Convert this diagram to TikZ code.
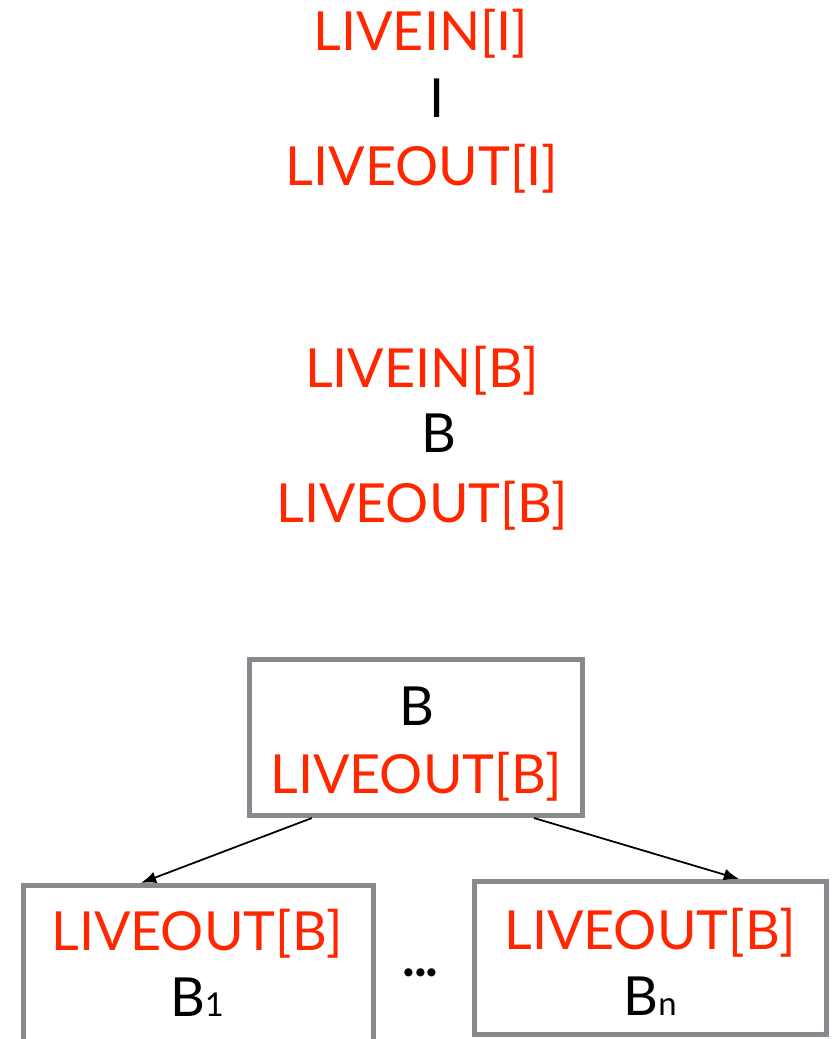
\documentclass[tikz,border=0pt]{standalone}
\usepackage{fontspec}
\setmainfont{Lato}
\usetikzlibrary{arrows.meta,calc}
\definecolor{livered}{RGB}{255,38,0}
\definecolor{boxgray}{RGB}{134,137,141}

\begin{document}
\begin{tikzpicture}[x=0.03cm,y=-0.03cm,
  lbl/.style={anchor=base,inner sep=0pt,font=\fontsize{46}{55}\selectfont},
  live/.style={lbl,text=livered},
  blk/.style={draw=boxgray,line width=4.3pt,inner sep=0pt},
  edge/.style={line width=1.5pt,-{Latex[length=13pt,width=10pt]}}]
\def\sub#1{{\fontsize{28}{30}\selectfont #1}}
\useasboundingbox (0,0) rectangle (833,1039);
\clip (0,0) rectangle (833,1039);

% one instruction
\node[live] (inI) at (421,51) {LIVEIN[I]};
\node[lbl] (instI) at (437,117) {I};
\node[live] (outI) at (422,185) {LIVEOUT[I]};

% one block
\node[live] (inB) at (422,387) {LIVEIN[B]};
\node[lbl] (blkB) at (439,452) {B};
\node[live] (outB) at (422,522) {LIVEOUT[B]};

% block and its successors
\node[blk,minimum width=9.99cm,minimum height=4.68cm] (boxB) at (416,737.5) {};
\node[lbl] at (417,725) {B};
\node[live] at (416,793) {LIVEOUT[B]};

\node[blk,minimum width=10.5cm,minimum height=5.84cm] (boxL) at (198.5,982.8) {};
\node[live] at (197,950) {LIVEOUT[B]};
\node[lbl] at (197,1016) {B\sub{1}};

\node[lbl,font=\fontsize{46}{55}\selectfont\bfseries] (dots) at (420.5,976) {.\kern-1pt.\kern-1pt.};

\node[blk,minimum width=10.56cm,minimum height=4.59cm] (boxR) at (650.5,958) {};
\node[live] at (650,949) {LIVEOUT[B]};
\node[lbl] at (650,1015) {B\sub{n}};

\draw[edge] ($(boxB.south west)!0.192!(boxB.south east)$) -- ($(boxL.north west)!0.338!(boxL.north east)$);
\draw[edge] ($(boxB.south west)!0.849!(boxB.south east)$) -- ($(boxR.north west)!0.748!(boxR.north east)$);
\end{tikzpicture}
\end{document}
